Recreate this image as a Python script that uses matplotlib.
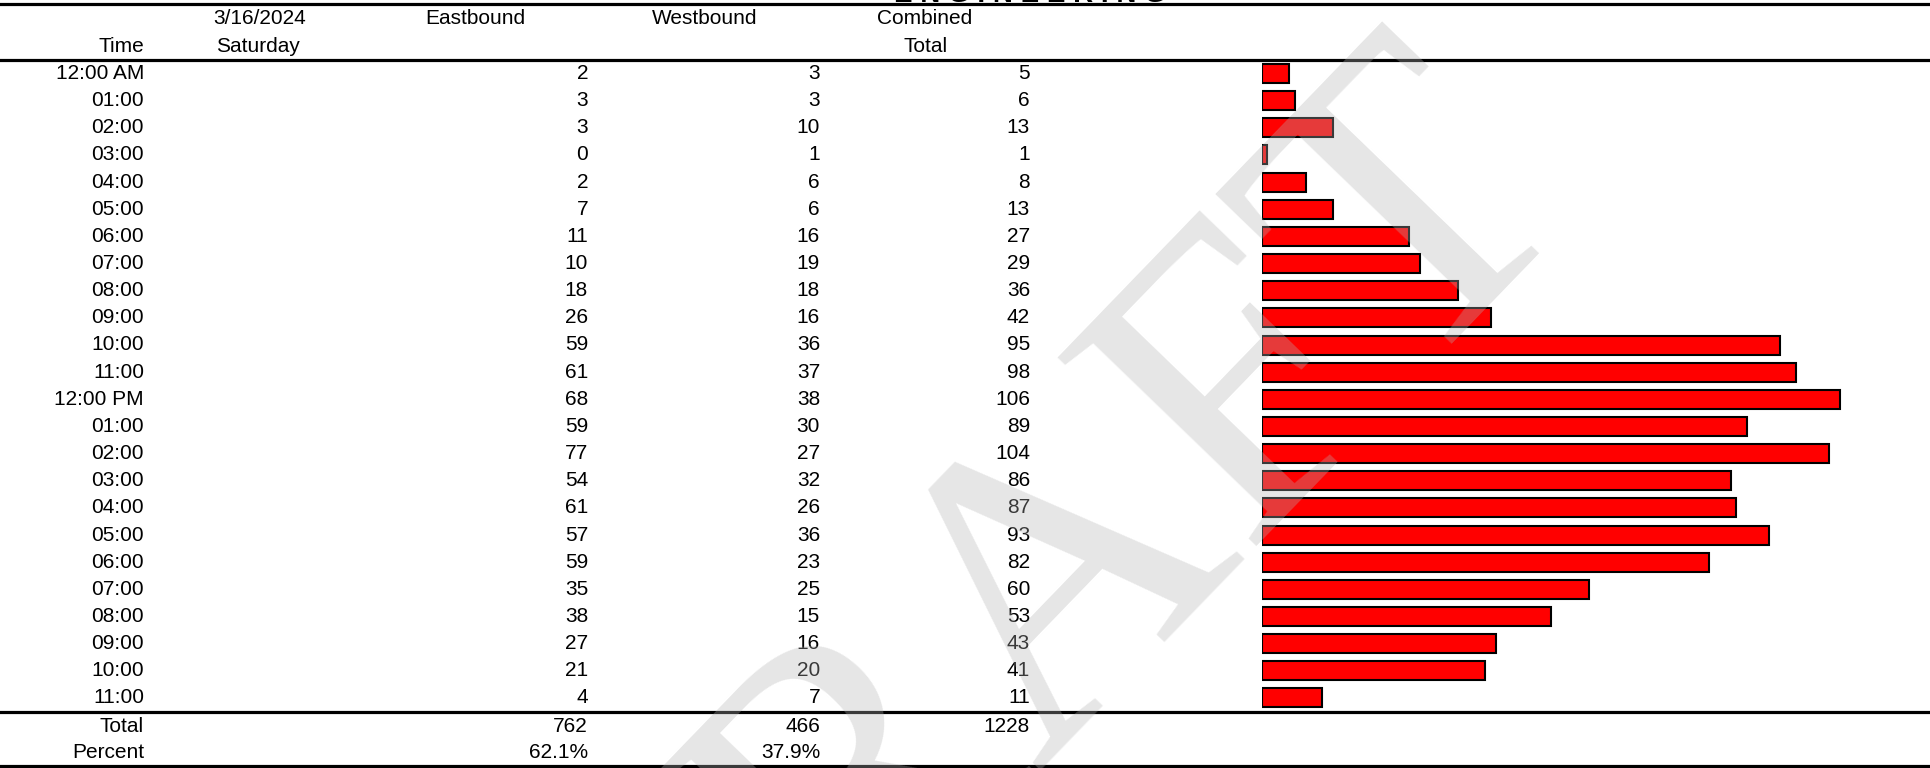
import matplotlib
matplotlib.use("Agg")
import matplotlib.pyplot as plt

# data
times = ["12:00 AM", "01:00", "02:00", "03:00", "04:00", "05:00", "06:00", "07:00",
         "08:00", "09:00", "10:00", "11:00", "12:00 PM", "01:00", "02:00", "03:00",
         "04:00", "05:00", "06:00", "07:00", "08:00", "09:00", "10:00", "11:00"]
eastbound = [2, 3, 3, 0, 2, 7, 11, 10, 18, 26, 59, 61, 68, 59, 77, 54, 61, 57, 59, 35, 38, 27, 21, 4]
westbound = [3, 3, 10, 1, 6, 6, 16, 19, 18, 16, 36, 37, 38, 30, 27, 32, 26, 36, 23, 25, 15, 16, 20, 7]
combined = [e + w for e, w in zip(eastbound, westbound)]
date_label = "3/16/2024"
day_label = "Saturday"

tot_e = sum(eastbound)
tot_w = sum(westbound)
tot_all = tot_e + tot_w

plt.rcParams['font.family'] = ['Liberation Sans', 'DejaVu Sans']
FS = 15

fig = plt.figure(figsize=(19.3, 7.68), dpi=100)

# table axes in pixel layout
ax = fig.add_axes([0, 0, 1, 1])
ax.set_xlim(0, 1930)
ax.set_ylim(768, 0)
ax.axis('off')

y0, step = 73.5, 27.15
rows_y = [y0 + i * step for i in range(len(times))]

# columns (right edges)
x_time = 144
x_east = 588
x_west = 820
x_comb = 1030

# header
ax.text(x_time, 47, "Time", ha='right', va='center', fontsize=FS)
ax.text(260, 19, date_label, ha='center', va='center', fontsize=FS)
ax.text(258, 47, day_label, ha='center', va='center', fontsize=FS)
ax.text(475, 19, "Eastbound", ha='center', va='center', fontsize=FS)
ax.text(705, 19, "Westbound", ha='center', va='center', fontsize=FS)
ax.text(925, 19, "Combined", ha='center', va='center', fontsize=FS)
ax.text(926, 47, "Total", ha='center', va='center', fontsize=FS)

# title, mostly cut off at the top edge
ax.text(1030, 8, "E N G I N E E R I N G", ha='center', va='bottom',
        fontsize=20, fontweight='bold')

for y, t, e, w, c in zip(rows_y, times, eastbound, westbound, combined):
    ax.text(x_time, y, t, ha='right', va='center', fontsize=FS)
    ax.text(x_east, y, str(e), ha='right', va='center', fontsize=FS)
    ax.text(x_west, y, str(w), ha='right', va='center', fontsize=FS)
    ax.text(x_comb, y, str(c), ha='right', va='center', fontsize=FS)

# totals
ax.text(x_time, 726, "Total", ha='right', va='center', fontsize=FS)
ax.text(x_east, 726, str(tot_e), ha='right', va='center', fontsize=FS)
ax.text(x_west, 726, str(tot_w), ha='right', va='center', fontsize=FS)
ax.text(x_comb, 726, str(tot_all), ha='right', va='center', fontsize=FS)
ax.text(x_time, 752, "Percent", ha='right', va='center', fontsize=FS)
ax.text(x_east, 752, f"{tot_e / tot_all * 100:.1f}%", ha='right', va='center', fontsize=FS)
ax.text(x_west, 752, f"{tot_w / tot_all * 100:.1f}%", ha='right', va='center', fontsize=FS)

# rules
for yl in [3.5, 60, 711.5, 766]:
    ax.axhline(yl, color='black', lw=2.3)

# bars
bx0 = 1262
axb = fig.add_axes([bx0 / 1930, 0, (1930 - bx0) / 1930, 1])
axb.set_xlim(0, (1930 - bx0) / 5.45)
axb.set_ylim(768, 0)
axb.axis('off')
axb.barh(rows_y, combined, height=19, left=0, color='#ff0000',
         edgecolor='black', linewidth=1.5)

# watermark
fig.text(1035 / 1930, 1 - 620 / 768, "DRAFT", ha='center', va='center',
         rotation=46, fontsize=300, family='Liberation Serif',
         color=(0.7, 0.7, 0.7), alpha=0.33, zorder=10)

fig.savefig("out.png", dpi=100)
